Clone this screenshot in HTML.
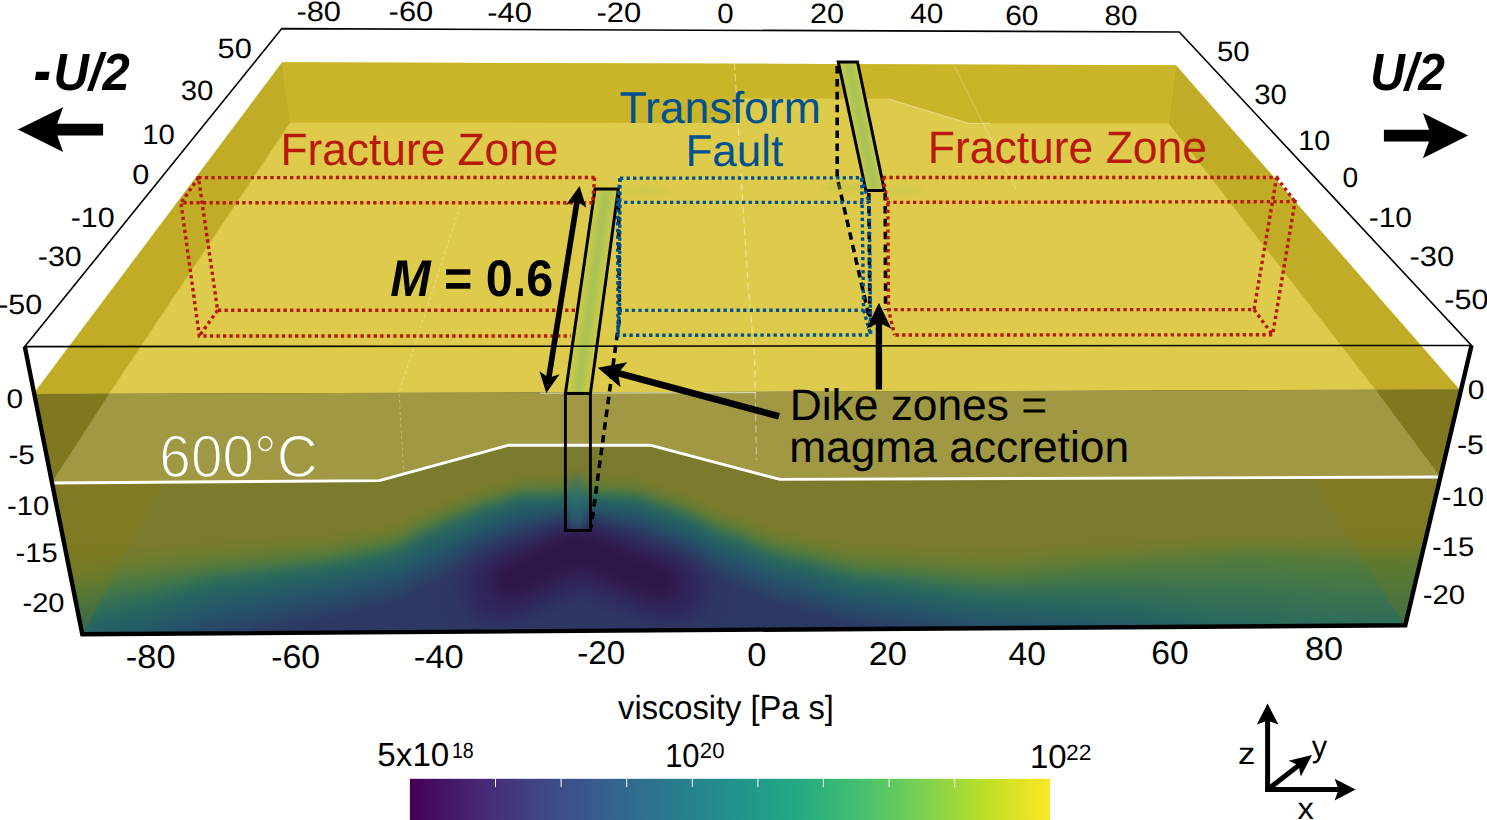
<!DOCTYPE html>
<html lang="en"><head><meta charset="utf-8"><title>Transform fault model</title>
<style>
html,body{margin:0;padding:0;background:#fff;}
body{width:1487px;height:820px;overflow:hidden;}
svg{display:block;text-rendering:geometricPrecision;font-family:"Liberation Sans",Arial,Helvetica,sans-serif;}
</style></head><body>
<svg width="1487" height="820" viewBox="0 0 1487 820">
<defs>
<filter id="bl5" filterUnits="userSpaceOnUse" x="-80" y="360" width="1660" height="360"><feGaussianBlur color-interpolation-filters="sRGB" stdDeviation="5"/></filter>
<filter id="bl12" filterUnits="userSpaceOnUse" x="-80" y="360" width="1660" height="360"><feGaussianBlur color-interpolation-filters="sRGB" stdDeviation="11"/></filter>
<filter id="bl9" filterUnits="userSpaceOnUse" x="-80" y="360" width="1660" height="360"><feGaussianBlur color-interpolation-filters="sRGB" stdDeviation="8"/></filter>
<filter id="bl3" filterUnits="userSpaceOnUse" x="0" y="0" width="1487" height="820"><feGaussianBlur color-interpolation-filters="sRGB" stdDeviation="3"/></filter>
<filter id="bl2" filterUnits="userSpaceOnUse" x="0" y="0" width="1487" height="820"><feGaussianBlur color-interpolation-filters="sRGB" stdDeviation="1.6"/></filter>
<clipPath id="cFront"><polygon points="33.4,394 1459.5,389.5 1405.3,625.3 82.3,634.3"/></clipPath>
<linearGradient id="vir" x1="0" x2="1" y1="0" y2="0">
<stop offset="0" stop-color="#440154"/>
<stop offset="0.1" stop-color="#482475"/>
<stop offset="0.2" stop-color="#414487"/>
<stop offset="0.3" stop-color="#355f8d"/>
<stop offset="0.4" stop-color="#2a788e"/>
<stop offset="0.5" stop-color="#21918c"/>
<stop offset="0.6" stop-color="#22a884"/>
<stop offset="0.7" stop-color="#44bf70"/>
<stop offset="0.8" stop-color="#7ad151"/>
<stop offset="0.9" stop-color="#bddf26"/>
<stop offset="1" stop-color="#fde725"/>
</linearGradient>
</defs>
<rect width="1487" height="820" fill="#fff"/>
<polygon points="282.2,62.2 1176,65.2 1459.5,389.5 33.4,394" fill="#dfcb4b"/>
<polygon points="282.2,62.2 1176,65.2 1168.6,123.3 969,123.4 888,98.8 734.5,98.5 734.5,122.9 290,122.7" fill="#cab528"/>
<polygon points="282.2,62.2 290,122.7 109,394 33.4,394" fill="#c1ac27"/>
<polygon points="1176,65.2 1168.6,123.3 1375.9,390.3 1459.5,389.5" fill="#c1ac27"/>
<g clip-path="url(#cFront)">
<rect x="-80" y="360" width="1660" height="360" fill="#7b7b2d"/>
<g filter="url(#bl5)">
<rect x="-80" y="360" width="1660" height="360" fill="#7b7b2d"/>
<polygon points="-60,560 -40,559.52 -20,558.81 0,558 20,557.19 40,556.48 60,556 80,553.78 100,550.67 120,548.22 140,547.09 160,545.51 180,543.67 200,541.89 220,540.47 240,539.7 260,538.76 280,537.63 300,536.59 320,535.78 340,533.34 360,530.09 380,527.14 400,523 420,511.22 440,503.69 460,496.42 480,488.87 500,483.89 520,478 540,477.54 560,477.04 580,477 600,477.15 620,478.2 640,479.39 660,486.78 680,492.99 700,501.48 720,510.97 740,516.74 760,525.23 780,532 800,534.56 820,538.3 840,542.1 860,544.83 880,545.27 900,545.71 920,546.24 940,546.79 960,547.31 980,547.75 1000,547.91 1020,546.95 1040,545.62 1060,544.17 1080,542.88 1100,542 1120,541.45 1140,540.67 1160,539.74 1180,538.75 1200,537.78 1220,536.91 1240,536.24 1260,536.13 1280,536.52 1300,537 1320,537.48 1340,537.87 1360,538.05 1380,538.2 1400,538.38 1420,538.59 1440,538.82 1460,539.06 1480,539.29 1500,539.52 1520,539.71 1540,539.88 1560,540 1560,730 -60,730" fill="#767b2e"/>
<polygon points="-60,567.2 -40,566.67 -20,565.9 0,565 20,564.1 40,563.33 60,562.8 80,560.35 100,556.94 120,554.24 140,552.98 160,551.2 180,549.13 200,547.12 220,545.53 240,544.62 260,543.45 280,542.04 300,540.74 320,539.76 340,537.19 360,533.73 380,530.61 400,526.37 420,514.48 440,506.85 460,499.33 480,491.53 500,486.42 520,480.4 540,479.94 560,479.44 580,479.4 600,479.56 620,480.66 640,481.9 660,489.34 680,495.6 700,504.16 720,513.74 740,519.6 760,528.28 780,535.2 800,537.95 820,541.99 840,546.08 860,549.02 880,549.6 900,550.24 920,551.01 940,551.83 960,552.59 980,553.23 1000,553.49 1020,552.41 1040,550.9 1060,549.26 1080,547.79 1100,546.8 1120,546.18 1140,545.3 1160,544.24 1180,543.12 1200,542.01 1220,541.03 1240,540.27 1260,540.15 1280,540.62 1300,541.2 1320,541.78 1340,542.25 1360,542.45 1380,542.6 1400,542.78 1420,542.99 1440,543.22 1460,543.46 1480,543.69 1500,543.92 1520,544.11 1540,544.28 1560,544.4 1560,730 -60,730" fill="#727c2f"/>
<polygon points="-60,574.4 -40,573.82 -20,572.98 0,572 20,571.02 40,570.18 60,569.6 80,566.93 100,563.2 120,560.26 140,558.87 160,556.89 180,554.59 200,552.36 220,550.59 240,549.55 260,548.14 280,546.44 300,544.89 320,543.75 340,541.03 360,537.38 380,534.08 400,529.75 420,517.74 440,510 460,502.24 480,494.19 500,488.95 520,482.8 540,482.34 560,481.84 580,481.8 600,481.97 620,483.12 640,484.4 660,491.9 680,498.2 700,506.85 720,516.52 740,522.46 760,531.33 780,538.4 800,541.35 820,545.67 840,550.06 860,553.2 880,553.93 900,554.78 920,555.79 940,556.86 960,557.87 980,558.71 1000,559.08 1020,557.87 1040,556.18 1060,554.35 1080,552.71 1100,551.6 1120,550.91 1140,549.92 1160,548.74 1180,547.48 1200,546.25 1220,545.16 1240,544.3 1260,544.18 1280,544.72 1300,545.4 1320,546.08 1340,546.62 1360,546.85 1380,547 1400,547.18 1420,547.39 1440,547.62 1460,547.86 1480,548.09 1500,548.32 1520,548.51 1540,548.68 1560,548.8 1560,730 -60,730" fill="#6e7c30"/>
<polygon points="-60,581.6 -40,580.97 -20,580.06 0,579 20,577.94 40,577.03 60,576.4 80,573.51 100,569.47 120,566.28 140,564.75 160,562.58 180,560.05 200,557.6 220,555.65 240,554.47 260,552.83 280,550.85 300,549.03 320,547.74 340,544.87 360,541.02 380,537.55 400,533.12 420,521 440,513.16 460,505.16 480,496.85 500,491.48 520,485.2 540,484.74 560,484.24 580,484.2 600,484.38 620,485.58 640,486.9 660,494.46 680,500.81 700,509.53 720,519.29 740,525.32 760,534.38 780,541.6 800,544.75 820,549.36 840,554.04 860,557.39 880,558.25 900,559.31 920,560.57 940,561.9 960,563.15 980,564.19 1000,564.67 1020,563.33 1040,561.46 1060,559.44 1080,557.63 1100,556.4 1120,555.64 1140,554.54 1160,553.24 1180,551.85 1200,550.49 1220,549.28 1240,548.33 1260,548.2 1280,548.83 1300,549.6 1320,550.37 1340,551 1360,551.25 1380,551.4 1400,551.58 1420,551.79 1440,552.02 1460,552.26 1480,552.49 1500,552.72 1520,552.91 1540,553.08 1560,553.2 1560,730 -60,730" fill="#657c34"/>
<polygon points="-60,588.8 -40,588.13 -20,587.14 0,586 20,584.86 40,583.87 60,583.2 80,580.09 100,575.74 120,572.3 140,570.64 160,568.27 180,565.51 200,562.83 220,560.71 240,559.39 260,557.52 280,555.26 300,553.18 320,551.72 340,548.71 360,544.67 380,541.02 400,536.49 420,524.26 440,516.32 460,508.07 480,499.52 500,494.01 520,487.6 540,487.14 560,486.64 580,486.6 600,486.78 620,488.04 640,489.41 660,497.02 680,503.42 700,512.22 720,522.06 740,528.18 760,537.43 780,544.8 800,548.14 820,553.04 840,558.01 860,561.58 880,562.58 900,563.84 920,565.35 940,566.93 960,568.43 980,569.67 1000,570.25 1020,568.79 1040,566.74 1060,564.53 1080,562.55 1100,561.2 1120,560.36 1140,559.17 1160,557.74 1180,556.22 1200,554.73 1220,553.4 1240,552.37 1260,552.23 1280,552.93 1300,553.8 1320,554.67 1340,555.37 1360,555.65 1380,555.8 1400,555.98 1420,556.19 1440,556.42 1460,556.66 1480,556.89 1500,557.12 1520,557.31 1540,557.48 1560,557.6 1560,730 -60,730" fill="#5a7b39"/>
<polygon points="-60,596 -40,595.28 -20,594.22 0,593 20,591.78 40,590.72 60,590 80,586.67 100,582.01 120,578.33 140,576.53 160,573.96 180,570.97 200,568.07 220,565.77 240,564.32 260,562.21 280,559.66 300,557.33 320,555.71 340,552.55 360,548.31 380,544.49 400,539.86 420,527.52 440,519.47 460,510.99 480,502.18 500,496.54 520,490 540,489.54 560,489.04 580,489 600,489.19 620,490.5 640,491.91 660,499.58 680,506.03 700,514.91 720,524.83 740,531.04 760,540.48 780,548 800,551.54 820,556.73 840,561.99 860,565.76 880,566.91 900,568.37 920,570.12 940,571.97 960,573.71 980,575.15 1000,575.84 1020,574.25 1040,572.03 1060,569.62 1080,567.46 1100,566 1120,565.09 1140,563.79 1160,562.24 1180,560.58 1200,558.96 1220,557.52 1240,556.4 1260,556.26 1280,557.03 1300,558 1320,558.97 1340,559.74 1360,560.05 1380,560.2 1400,560.38 1420,560.59 1440,560.82 1460,561.06 1480,561.29 1500,561.52 1520,561.71 1540,561.88 1560,562 1560,730 -60,730" fill="#507a3e"/>
<polygon points="-60,604.8 -40,603.98 -20,602.79 0,601.4 20,600.01 40,598.82 60,598 80,594.22 100,588.94 120,584.77 140,582.59 160,579.43 180,575.75 200,572.18 220,569.34 240,567.69 260,565.49 280,562.83 300,560.39 320,558.7 340,555.44 360,551.08 380,547.13 400,542.43 420,529.98 440,521.84 460,513.2 480,504.22 500,498.47 520,491.8 540,491.34 560,490.84 580,490.8 600,491 620,492.36 640,493.81 660,501.54 680,508.05 700,517.08 720,527.18 740,533.47 760,543 780,550.6 800,554.26 820,559.62 840,565.06 860,568.96 880,570.26 900,571.95 920,573.98 940,576.12 960,578.14 980,579.82 1000,580.69 1020,579.54 1040,577.94 1060,576.21 1080,574.65 1100,573.6 1120,573.25 1140,572.76 1160,572.17 1180,571.54 1200,570.93 1220,570.38 1240,569.95 1260,570.2 1280,571.4 1300,572.9 1320,574.4 1340,575.6 1360,576.07 1380,576.26 1400,576.5 1420,576.77 1440,577.07 1460,577.38 1480,577.68 1500,577.97 1520,578.23 1540,578.44 1560,578.6 1560,730 -60,730" fill="#457747"/>
<polygon points="-60,613.6 -40,612.69 -20,611.35 0,609.8 20,608.25 40,606.91 60,606 80,601.78 100,595.87 120,591.21 140,588.65 160,584.89 180,580.52 200,576.29 220,572.92 240,571.06 260,568.76 280,565.99 300,563.45 320,561.69 340,558.34 360,553.84 380,549.78 400,545 420,532.44 440,524.22 460,515.4 480,506.26 500,500.4 520,493.6 540,493.14 560,492.64 580,492.6 600,492.81 620,494.22 640,495.72 660,503.5 680,510.07 700,519.25 720,529.52 740,535.9 760,545.53 780,553.2 800,556.98 820,562.51 840,568.12 860,572.15 880,573.6 900,575.53 920,577.84 940,580.28 960,582.58 980,584.48 1000,585.53 1020,584.83 1040,583.85 1060,582.79 1080,581.84 1100,581.2 1120,581.42 1140,581.73 1160,582.1 1180,582.5 1200,582.89 1220,583.24 1240,583.5 1260,584.14 1280,585.77 1300,587.8 1320,589.83 1340,591.46 1360,592.09 1380,592.32 1400,592.61 1420,592.95 1440,593.32 1460,593.7 1480,594.07 1500,594.43 1520,594.74 1540,595.01 1560,595.2 1560,730 -60,730" fill="#3b734f"/>
<polygon points="-60,622.4 -40,621.39 -20,619.91 0,618.2 20,616.49 40,615.01 60,614 80,609.33 100,602.81 120,597.66 140,594.71 160,590.36 180,585.3 200,580.39 220,576.5 240,574.43 260,572.04 280,569.15 300,566.5 320,564.68 340,561.23 360,556.6 380,552.42 400,547.57 420,534.9 440,526.59 460,517.61 480,508.3 500,502.34 520,495.4 540,494.94 560,494.44 580,494.4 600,494.62 620,496.08 640,497.62 660,505.46 680,512.09 700,521.42 720,531.87 740,538.33 760,548.05 780,555.8 800,559.69 820,565.4 840,571.19 860,575.34 880,576.95 900,579.11 920,581.7 940,584.43 960,587.01 980,589.15 1000,590.37 1020,590.12 1040,589.76 1060,589.38 1080,589.03 1100,588.8 1120,589.58 1140,590.7 1160,592.03 1180,593.46 1200,594.85 1220,596.09 1240,597.06 1260,598.08 1280,600.13 1300,602.7 1320,605.27 1340,607.32 1360,608.1 1380,608.38 1400,608.72 1420,609.13 1440,609.56 1460,610.01 1480,610.46 1500,610.88 1520,611.26 1540,611.57 1560,611.8 1560,730 -60,730" fill="#336f56"/>
<polygon points="-60,631.2 -40,630.09 -20,628.47 0,626.6 20,624.73 40,623.11 60,622 80,616.89 100,609.74 120,604.1 140,600.77 160,595.83 180,590.08 200,584.5 220,580.08 240,577.8 260,575.32 280,572.31 300,569.56 320,567.67 340,564.12 360,559.37 380,555.07 400,550.15 420,537.36 440,528.96 460,519.82 480,510.34 500,504.27 520,497.2 540,496.74 560,496.24 580,496.2 600,496.42 620,497.94 640,499.52 660,507.41 680,514.1 700,523.6 720,534.21 740,540.76 760,550.58 780,558.4 800,562.41 820,568.29 840,574.25 860,578.53 880,580.29 900,582.69 920,585.56 940,588.59 960,591.44 980,593.81 1000,595.22 1020,595.41 1040,595.68 1060,595.97 1080,596.22 1100,596.4 1120,597.75 1140,599.67 1160,601.96 1180,604.42 1200,606.81 1220,608.95 1240,610.61 1260,612.02 1280,614.5 1300,617.6 1320,620.7 1340,623.18 1360,624.12 1380,624.44 1400,624.84 1420,625.3 1440,625.81 1460,626.33 1480,626.85 1500,627.34 1520,627.77 1540,628.13 1560,628.4 1560,730 -60,730" fill="#2c6a5b"/>
<polygon points="-60,640 -40,638.8 -20,637.04 0,635 20,632.96 40,631.2 60,630 80,624.44 100,616.68 120,610.54 140,606.83 160,601.29 180,594.86 200,588.61 220,583.65 240,581.17 260,578.59 280,575.48 300,572.62 320,570.66 340,567.02 360,562.13 380,557.71 400,552.72 420,539.81 440,531.33 460,522.03 480,512.39 500,506.2 520,499 540,498.54 560,498.04 580,498 600,498.23 620,499.8 640,501.42 660,509.37 680,516.12 700,525.77 720,536.56 740,543.19 760,553.1 780,561 800,565.13 820,571.18 840,577.32 860,581.73 880,583.64 900,586.27 920,589.42 940,592.74 960,595.88 980,598.47 1000,600.06 1020,600.7 1040,601.59 1060,602.55 1080,603.41 1100,604 1120,605.91 1140,608.64 1160,611.9 1180,615.37 1200,618.78 1220,621.81 1240,624.17 1260,625.96 1280,628.87 1300,632.5 1320,636.13 1340,639.04 1360,640.14 1380,640.5 1400,640.95 1420,641.48 1440,642.06 1460,642.65 1480,643.24 1500,643.79 1520,644.29 1540,644.7 1560,645 1560,730 -60,730" fill="#266660"/>
<polygon points="-60,647.2 -40,646 -20,644.24 0,642.2 20,640.16 40,638.4 60,637.2 80,631.48 100,623.48 120,617.16 140,613.31 160,607.56 180,600.87 200,594.38 220,589.24 240,586.6 260,583.78 280,580.36 300,577.22 320,575.1 340,571.42 360,566.5 380,562.05 400,557.05 420,544.22 440,535.72 460,526.19 480,516.29 500,509.91 520,502.48 540,501.69 560,500.83 580,500.76 600,501.02 620,502.78 640,504.56 660,512.78 680,519.73 700,529.47 720,540.36 740,547.05 760,557.02 780,564.96 800,569.11 820,575.2 840,581.37 860,585.8 880,587.78 900,590.52 920,593.8 940,597.25 960,600.51 980,603.21 1000,604.88 1020,605.73 1040,606.91 1060,608.2 1080,609.34 1100,610.12 1120,612.18 1140,615.13 1160,618.65 1180,622.4 1200,626.08 1220,629.35 1240,631.9 1260,633.72 1280,636.52 1300,640 1320,643.48 1340,646.28 1360,647.35 1380,647.76 1400,648.27 1420,648.86 1440,649.5 1460,650.17 1480,650.82 1500,651.44 1520,652 1540,652.46 1560,652.8 1560,730 -60,730" fill="#266262"/>
<polygon points="-60,654.4 -40,653.2 -20,651.44 0,649.4 20,647.36 40,645.6 60,644.4 80,638.51 100,630.28 120,623.77 140,619.78 160,613.82 180,606.89 200,600.16 220,594.82 240,592.04 260,588.96 280,585.24 300,581.82 320,579.54 340,575.83 360,570.87 380,566.38 400,561.39 420,548.62 440,540.12 460,530.34 480,520.19 500,513.63 520,505.96 540,504.85 560,503.62 580,503.52 600,503.81 620,505.76 640,507.69 660,516.19 680,523.34 700,533.17 720,544.17 740,550.91 760,560.93 780,568.92 800,573.1 820,579.22 840,585.43 860,589.88 880,591.93 900,594.77 920,598.18 940,601.76 960,605.15 980,607.95 1000,609.7 1020,610.76 1040,612.24 1060,613.84 1080,615.27 1100,616.24 1120,618.46 1140,621.62 1160,625.4 1180,629.43 1200,633.38 1220,636.9 1240,639.63 1260,641.48 1280,644.16 1300,647.5 1320,650.84 1340,653.52 1360,654.57 1380,655.01 1400,655.58 1420,656.24 1440,656.95 1460,657.68 1480,658.41 1500,659.1 1520,659.71 1540,660.23 1560,660.6 1560,730 -60,730" fill="#255e64"/>
<polygon points="-60,661.6 -40,660.4 -20,658.64 0,656.6 20,654.56 40,652.8 60,651.6 80,645.54 100,637.08 120,630.39 140,626.26 160,620.09 180,612.9 200,605.93 220,600.4 240,597.48 260,594.15 280,590.12 300,586.42 320,583.98 340,580.24 360,575.24 380,570.72 400,565.73 420,553.03 440,544.52 460,534.49 480,524.09 500,517.34 520,509.44 540,508 560,506.41 580,506.28 600,506.59 620,508.73 640,510.83 660,519.6 680,526.95 700,536.88 720,547.98 740,554.77 760,564.85 780,572.88 800,577.08 820,583.23 840,589.48 860,593.96 880,596.07 900,599.02 920,602.55 940,606.27 960,609.78 980,612.69 1000,614.53 1020,615.8 1040,617.56 1060,619.48 1080,621.2 1100,622.36 1120,624.73 1140,628.12 1160,632.15 1180,636.46 1200,640.68 1220,644.44 1240,647.37 1260,649.24 1280,651.81 1300,655 1320,658.19 1340,660.76 1360,661.78 1380,662.27 1400,662.9 1420,663.61 1440,664.4 1460,665.2 1480,666 1500,666.75 1520,667.43 1540,667.99 1560,668.4 1560,730 -60,730" fill="#245a66"/>
<polygon points="-60,668.8 -40,667.6 -20,665.84 0,663.8 20,661.76 40,660 60,658.8 80,652.57 100,643.88 120,637.01 140,632.74 160,626.35 180,618.92 200,611.71 220,605.99 240,602.92 260,599.33 280,595 300,591.02 320,588.41 340,584.65 360,579.61 380,575.05 400,570.07 420,557.43 440,548.91 460,538.65 480,528 500,521.06 520,512.92 540,511.15 560,509.2 580,509.04 600,509.38 620,511.71 640,513.96 660,523 680,530.56 700,540.58 720,551.79 740,558.62 760,568.76 780,576.84 800,581.06 820,587.25 840,593.53 860,598.04 880,600.22 900,603.27 920,606.93 940,610.78 960,614.42 980,617.43 1000,619.35 1020,620.83 1040,622.89 1060,625.12 1080,627.12 1100,628.48 1120,631 1140,634.61 1160,638.9 1180,643.49 1200,647.99 1220,651.99 1240,655.1 1260,657.01 1280,659.45 1300,662.5 1320,665.55 1340,667.99 1360,669 1380,669.53 1400,670.21 1420,670.99 1440,671.84 1460,672.72 1480,673.59 1500,674.41 1520,675.14 1540,675.75 1560,676.2 1560,730 -60,730" fill="#245668"/>
<polygon points="-60,676 -40,674.8 -20,673.04 0,671 20,668.96 40,667.2 60,666 80,659.61 100,650.68 120,643.62 140,639.22 160,632.62 180,624.94 200,617.48 220,611.57 240,608.36 260,604.52 280,599.88 300,595.62 320,592.85 340,589.06 360,583.98 380,579.38 400,574.4 420,561.84 440,553.31 460,542.8 480,531.9 500,524.77 520,516.4 540,514.3 560,511.99 580,511.8 600,512.17 620,514.69 640,517.1 660,526.41 680,534.18 700,544.29 720,555.59 740,562.48 760,572.68 780,580.8 800,585.05 820,591.27 840,597.59 860,602.12 880,604.36 900,607.53 920,611.31 940,615.29 960,619.05 980,622.17 1000,624.17 1020,625.86 1040,628.21 1060,630.76 1080,633.05 1100,634.6 1120,637.27 1140,641.1 1160,645.65 1180,650.52 1200,655.29 1220,659.53 1240,662.83 1260,664.77 1280,667.1 1300,670 1320,672.9 1340,675.23 1360,676.22 1380,676.79 1400,677.52 1420,678.37 1440,679.29 1460,680.24 1480,681.18 1500,682.06 1520,682.86 1540,683.52 1560,684 1560,730 -60,730" fill="#255268"/>
<polygon points="-60,683.2 -40,682 -20,680.24 0,678.2 20,676.16 40,674.4 60,673.2 80,666.64 100,657.48 120,650.24 140,645.69 160,638.88 180,630.95 200,623.26 220,617.15 240,613.8 260,609.71 280,604.75 300,600.22 320,597.29 340,593.47 360,588.35 380,583.72 400,578.74 420,566.24 440,557.71 460,546.96 480,535.8 500,528.49 520,519.88 540,517.45 560,514.78 580,514.56 600,514.96 620,517.66 640,520.23 660,529.82 680,537.79 700,547.99 720,559.4 740,566.34 760,576.59 780,584.76 800,589.03 820,595.29 840,601.64 860,606.2 880,608.51 900,611.78 920,615.68 940,619.8 960,623.69 980,626.91 1000,628.99 1020,630.89 1040,633.54 1060,636.41 1080,638.98 1100,640.72 1120,643.55 1140,647.59 1160,652.41 1180,657.55 1200,662.59 1220,667.08 1240,670.57 1260,672.53 1280,674.74 1300,677.5 1320,680.26 1340,682.47 1360,683.43 1380,684.05 1400,684.84 1420,685.75 1440,686.74 1460,687.76 1480,688.77 1500,689.72 1520,690.57 1540,691.28 1560,691.8 1560,730 -60,730" fill="#274e68"/>
<polygon points="-60,690.4 -40,689.2 -20,687.44 0,685.4 20,683.36 40,681.6 60,680.4 80,673.67 100,664.28 120,656.86 140,652.17 160,645.14 180,636.97 200,629.03 220,622.74 240,619.23 260,614.89 280,609.63 300,604.82 320,601.73 340,597.87 360,592.71 380,588.05 400,583.08 420,570.65 440,562.1 460,551.11 480,539.7 500,532.21 520,523.36 540,520.6 560,517.57 580,517.32 600,517.74 620,520.64 640,523.37 660,533.22 680,541.4 700,551.69 720,563.21 740,570.2 760,580.51 780,588.72 800,593.02 820,599.31 840,605.69 860,610.27 880,612.66 900,616.03 920,620.06 940,624.31 960,628.32 980,631.65 1000,633.81 1020,635.92 1040,638.86 1060,642.05 1080,644.9 1100,646.84 1120,649.82 1140,654.08 1160,659.16 1180,664.58 1200,669.89 1220,674.62 1240,678.3 1260,680.29 1280,682.39 1300,685 1320,687.61 1340,689.71 1360,690.65 1380,691.31 1400,692.15 1420,693.13 1440,694.18 1460,695.27 1480,696.35 1500,697.37 1520,698.29 1540,699.04 1560,699.6 1560,730 -60,730" fill="#284a68"/>
<polygon points="-60,697.6 -40,696.4 -20,694.64 0,692.6 20,690.56 40,688.8 60,687.6 80,680.71 100,671.08 120,663.47 140,658.65 160,651.41 180,642.98 200,634.81 220,628.32 240,624.67 260,620.08 280,614.51 300,609.42 320,606.16 340,602.28 360,597.08 380,592.38 400,587.41 420,575.05 440,566.5 460,555.26 480,543.6 500,535.92 520,526.84 540,523.75 560,520.36 580,520.08 600,520.53 620,523.62 640,526.5 660,536.63 680,545.01 700,555.4 720,567.01 740,574.06 760,584.42 780,592.68 800,597 820,603.33 840,609.75 860,614.35 880,616.8 900,620.28 920,624.44 940,628.82 960,632.96 980,636.39 1000,638.63 1020,640.95 1040,644.19 1060,647.69 1080,650.83 1100,652.96 1120,656.09 1140,660.57 1160,665.91 1180,671.61 1200,677.2 1220,682.17 1240,686.03 1260,688.05 1280,690.03 1300,692.5 1320,694.97 1340,696.95 1360,697.87 1380,698.57 1400,699.47 1420,700.5 1440,701.63 1460,702.79 1480,703.94 1500,705.03 1520,706 1540,706.81 1560,707.4 1560,730 -60,730" fill="#2a4568"/>
<polygon points="-60,704.8 -40,703.6 -20,701.84 0,699.8 20,697.76 40,696 60,694.8 80,687.74 100,677.88 120,670.09 140,665.13 160,657.67 180,649 200,640.58 220,633.91 240,630.11 260,625.26 280,619.39 300,614.02 320,610.6 340,606.69 360,601.45 380,596.72 400,591.75 420,579.45 440,570.9 460,559.42 480,547.51 500,539.64 520,530.32 540,526.91 560,523.15 580,522.84 600,523.32 620,526.59 640,529.64 660,540.04 680,548.62 700,559.1 720,570.82 740,577.92 760,588.34 780,596.64 800,600.98 820,607.34 840,613.8 860,618.43 880,620.95 900,624.53 920,628.82 940,633.33 960,637.59 980,641.13 1000,643.45 1020,645.98 1040,649.51 1060,653.33 1080,656.76 1100,659.08 1120,662.37 1140,667.06 1160,672.66 1180,678.64 1200,684.5 1220,689.71 1240,693.77 1260,695.81 1280,697.68 1300,700 1320,702.32 1340,704.19 1360,705.08 1380,705.83 1400,706.78 1420,707.88 1440,709.08 1460,710.31 1480,711.53 1500,712.68 1520,713.72 1540,714.57 1560,715.2 1560,730 -60,730" fill="#2b4167"/>
<polygon points="-60,712 -40,710.8 -20,709.04 0,707 20,704.96 40,703.2 60,702 80,694.77 100,684.68 120,676.7 140,671.6 160,663.94 180,655.01 200,646.36 220,639.49 240,635.55 260,630.45 280,624.27 300,618.62 320,615.04 340,611.1 360,605.82 380,601.05 400,596.09 420,583.86 440,575.29 460,563.57 480,551.41 500,543.35 520,533.8 540,530.06 560,525.94 580,525.6 600,526.11 620,529.57 640,532.77 660,543.45 680,552.23 700,562.8 720,574.63 740,581.77 760,592.25 780,600.6 800,604.97 820,611.36 840,617.85 860,622.51 880,625.09 900,628.78 920,633.19 940,637.84 960,642.23 980,645.86 1000,648.27 1020,651.02 1040,654.84 1060,658.98 1080,662.68 1100,665.2 1120,668.64 1140,673.56 1160,679.41 1180,685.67 1200,691.8 1220,697.25 1240,701.5 1260,703.58 1280,705.32 1300,707.5 1320,709.68 1340,711.42 1360,712.3 1380,713.09 1400,714.1 1420,715.26 1440,716.52 1460,717.83 1480,719.12 1500,720.34 1520,721.43 1540,722.34 1560,723 1560,730 -60,730" fill="#2d3c65"/>
<polygon points="-60,719.2 -40,718 -20,716.24 0,714.2 20,712.16 40,710.4 60,709.2 80,701.81 100,691.48 120,683.32 140,678.08 160,670.2 180,661.03 200,652.13 220,645.07 240,640.99 260,635.63 280,629.15 300,623.22 320,619.48 340,615.51 360,610.19 380,605.39 400,600.43 420,588.26 440,579.69 460,567.72 480,555.31 500,547.07 520,537.28 540,533.21 560,528.73 580,528.36 600,528.89 620,532.54 640,535.9 660,546.85 680,555.84 700,566.51 720,578.43 740,585.63 760,596.17 780,604.56 800,608.95 820,615.38 840,621.91 860,626.59 880,629.24 900,633.03 920,637.57 940,642.35 960,646.86 980,650.6 1000,653.09 1020,656.05 1040,660.16 1060,664.62 1080,668.61 1100,671.32 1120,674.91 1140,680.05 1160,686.16 1180,692.7 1200,699.1 1220,704.8 1240,709.23 1260,711.34 1280,712.97 1300,715 1320,717.03 1340,718.66 1360,719.51 1380,720.35 1400,721.41 1420,722.64 1440,723.97 1460,725.35 1480,726.71 1500,727.99 1520,729.14 1540,730.1 1560,730.8 1560,730 -60,730" fill="#2e3864"/>
</g>
<g filter="url(#bl12)" fill="none" stroke-linecap="round" stroke-linejoin="round">
<polyline points="498,588 579,554 672,588" stroke="#32245a" stroke-width="66"/>
</g>
<g filter="url(#bl9)" fill="none" stroke-linecap="round" stroke-linejoin="round">
<polyline points="512,580 579,548 660,582" stroke="#301648" stroke-width="36"/>
</g>
<polygon points="40,483 164,483 82,636 40,636" fill="#8c7800" opacity="0.22"/>
<polygon points="1311,478 1460,478 1460,630 1405,626" fill="#8c7800" opacity="0.22"/>
<polygon points="33.4,394 1459.5,389.5 1460,477 1440.3,477 780,479.4 650,445.2 508.9,445.2 379.4,480.6 50.5,483 30,483" fill="#a09843"/>
<polygon points="33.4,394 109,394 52,482 30,483" fill="#80781f"/>
<polygon points="1459.5,389.5 1375.9,390.3 1440.5,477 1465,477" fill="#80781f"/>
</g>
<polyline points="50.5,483 379.4,480.6 508.9,445.2 650,445.2 780,479.4 1440.3,477" fill="none" stroke="#fff" stroke-width="2.9" stroke-linejoin="round"/>
<polyline points="462,200 423,320 399,393 404,478" fill="none" stroke="#fff" stroke-width="0.7" stroke-dasharray="3 3" opacity="0.45"/>
<polyline points="734.5,63 742,190 748,285 754.6,355 756.5,460" fill="none" stroke="#fff" stroke-width="0.9" stroke-dasharray="7 4" opacity="0.55"/>
<polyline points="954,65 1016.5,190" fill="none" stroke="#fff" stroke-width="0.6" opacity="0.4"/>
<polyline points="888,98.8 969,123.4 990,123.4" fill="none" stroke="#fff" stroke-width="0.8" opacity="0.55"/>
<line x1="540" y1="393.2" x2="756" y2="392.6" stroke="#fff" stroke-width="0.8" opacity="0.85"/>
<polyline points="837.2,66 837.2,177.6 870,321" fill="none" stroke="#000" stroke-width="3.6" stroke-dasharray="7.6 5.3"/>
<polyline points="868.8,193 870,318" fill="none" stroke="#000" stroke-width="3.6" stroke-dasharray="7.6 5.3"/>
<polyline points="885.2,193 885.6,310" fill="none" stroke="#000" stroke-width="3.6" stroke-dasharray="7.6 5.3"/>
<polyline points="618.5,191 619.5,318 591,528" fill="none" stroke="#000" stroke-width="3.6" stroke-dasharray="7.6 5.3"/>
<g filter="url(#bl3)" opacity="0.5">
<ellipse cx="644" cy="190.5" rx="26" ry="3.6" fill="#b4c44a"/>
<ellipse cx="846" cy="188" rx="24" ry="3.6" fill="#b4c44a"/>
<ellipse cx="905" cy="190" rx="20" ry="3.2" fill="#b4c44a"/>
</g>
<clipPath id="cld"><polygon points="595,189 618.3,189 590.4,393.6 565.4,393.6"/></clipPath>
<polygon points="595,189 618.3,189 590.4,393.6 565.4,393.6" fill="#cbcb47"/>
<g clip-path="url(#cld)"><polyline points="606.65,189 577.9,393.6" fill="none" stroke="#a3c158" stroke-width="9.5" filter="url(#bl3)"/></g>
<polygon points="595,189 618.3,189 590.4,393.6 565.4,393.6" fill="none" stroke="#000" stroke-width="3" stroke-linejoin="miter"/>
<clipPath id="crd"><polygon points="838.3,61.9 857.5,61.9 884.4,190.5 865.9,190.5"/></clipPath>
<polygon points="838.3,61.9 857.5,61.9 884.4,190.5 865.9,190.5" fill="#cbcb47"/>
<g clip-path="url(#crd)"><polyline points="847.9,61.9 875.15,190.5" fill="none" stroke="#a3c158" stroke-width="9.5" filter="url(#bl3)"/></g>
<polygon points="838.3,61.9 857.5,61.9 884.4,190.5 865.9,190.5" fill="none" stroke="#000" stroke-width="3" stroke-linejoin="miter"/>
<clipPath id="cfr"><rect x="565.4" y="393.4" width="25" height="137"/></clipPath>
<g clip-path="url(#cfr)"><ellipse cx="577" cy="505" rx="9" ry="32" fill="#2f6f78" opacity="0.6" filter="url(#bl5)"/></g>
<rect x="565.4" y="393.4" width="25" height="137" fill="none" stroke="#000" stroke-width="2.9"/>
<polyline points="594.6,177.5 198.5,177.6 217.6,310.3 576.6,310.3" fill="none" stroke="#b9190a" stroke-width="3.4" stroke-dasharray="3.3 3.25"/>
<polyline points="592.7,202.8 181,202.8 199.3,336 571,336" fill="none" stroke="#b9190a" stroke-width="3.4" stroke-dasharray="3.3 3.25"/>
<polyline points="198.5,177.6 181,202.8" fill="none" stroke="#b9190a" stroke-width="3.4" stroke-dasharray="3.3 3.25"/>
<polyline points="217.6,310.3 199.3,336" fill="none" stroke="#b9190a" stroke-width="3.4" stroke-dasharray="3.3 3.25"/>
<polyline points="594.6,177.5 592.7,202.8" fill="none" stroke="#b9190a" stroke-width="3.4" stroke-dasharray="3.3 3.25"/>
<polyline points="882.9,177.5 1276.6,177.5 1254,309.6 888.5,309.6" fill="none" stroke="#b9190a" stroke-width="3.4" stroke-dasharray="3.3 3.25"/>
<polyline points="886.8,202.4 1295,201.6 1272.6,334.8 894.5,335" fill="none" stroke="#b9190a" stroke-width="3.4" stroke-dasharray="3.3 3.25"/>
<polyline points="1276.6,177.5 1295,201.6" fill="none" stroke="#b9190a" stroke-width="3.4" stroke-dasharray="3.3 3.25"/>
<polyline points="1254,309.6 1272.6,334.8" fill="none" stroke="#b9190a" stroke-width="3.4" stroke-dasharray="3.3 3.25"/>
<polyline points="882.9,177.5 887.8,203 888.5,309.6 894.5,335" fill="none" stroke="#b9190a" stroke-width="3.4" stroke-dasharray="3.3 3.25"/>
<polyline points="620,178.2 861.7,177.8 863.6,310.2 619.5,310.4 620,178.2" fill="none" stroke="#00518f" stroke-width="3.4" stroke-dasharray="3.3 3.25"/>
<polyline points="617.6,202.4 869.3,202.4 870.7,335 618,335.3 617.6,202.4" fill="none" stroke="#00518f" stroke-width="3.4" stroke-dasharray="3.3 3.25"/>
<polyline points="620,178.2 617.6,202.4" fill="none" stroke="#00518f" stroke-width="3.4" stroke-dasharray="3.3 3.25"/>
<polyline points="619.5,310.4 618,335.3" fill="none" stroke="#00518f" stroke-width="3.4" stroke-dasharray="3.3 3.25"/>
<polyline points="861.7,177.8 867.3,196.7 869.3,202.4" fill="none" stroke="#00518f" stroke-width="3.4" stroke-dasharray="3.3 3.25"/>
<polyline points="863.6,310.2 870.7,335" fill="none" stroke="#00518f" stroke-width="3.4" stroke-dasharray="3.3 3.25"/>
<polygon points="24.8,346.6 281.8,28.6 1179.3,32 1471.5,345.4" fill="none" stroke="#000" stroke-width="1.6" stroke-linejoin="miter"/>
<polyline points="24.8,346.6 82.3,634.3 1405.3,625.3 1471.5,345.4" fill="none" stroke="#000" stroke-width="4.4" stroke-linejoin="miter" stroke-linecap="butt"/>
<line x1="103.1" y1="129.6" x2="54.7" y2="129.6" stroke="#000" stroke-width="11.6"/>
<polygon points="17.9,129.6 63.1,107.2 55.2,129.6 63.1,152"/>
<line x1="1383.9" y1="135.6" x2="1431.7" y2="135.6" stroke="#000" stroke-width="11.6"/>
<polygon points="1468.1,135.6 1422.9,158.2 1431.2,135.6 1422.9,113"/>
<polygon points="546.3,393 539.48,371.14 548.75,377.7 559.62,374.37"/>
<line x1="548.68" y1="378.19" x2="577.12" y2="200.81" stroke="#000" stroke-width="5.6"/>
<polygon points="579.5,186 586.32,207.86 577.05,201.3 566.18,204.63"/>
<line x1="779" y1="416.2" x2="617.61" y2="373.09" stroke="#000" stroke-width="6.7"/>
<polygon points="597.8,367.8 627.24,362.21 618.09,373.22 620.53,387.33"/>
<line x1="878.9" y1="389.5" x2="878.9" y2="322.2" stroke="#000" stroke-width="6.4"/>
<polygon points="878.9,302.7 891.4,328.7 878.9,322.7 866.4,328.7"/>
<line x1="1267.6" y1="792" x2="1267.6" y2="720" stroke="#000" stroke-width="5"/>
<polygon points="1267.6,703.5 1278.4,724.5 1267.6,720.5 1256.8,724.5"/>
<line x1="1265.1" y1="789.6" x2="1339.1" y2="789.6" stroke="#000" stroke-width="5"/>
<polygon points="1355.6,789.6 1334.6,800.4 1338.6,789.6 1334.6,778.8"/>
<line x1="1267.6" y1="789.6" x2="1298.99" y2="765.14" stroke="#000" stroke-width="5"/>
<polygon points="1312,755 1300.79,776.41 1298.59,765.45 1288.5,760.64"/>
<rect x="409.9" y="778.8" width="640.1" height="42" fill="url(#vir)"/>
<rect x="495" y="778.8" width="1" height="8.2" fill="#fff"/>
<rect x="560.6" y="778.8" width="1" height="8.2" fill="#fff"/>
<rect x="626.2" y="778.8" width="1" height="8.2" fill="#fff"/>
<rect x="691.8" y="778.8" width="1" height="8.2" fill="#fff"/>
<rect x="757.4" y="778.8" width="1" height="8.2" fill="#fff"/>
<rect x="823" y="778.8" width="1" height="8.2" fill="#fff"/>
<rect x="888.6" y="778.8" width="1" height="8.2" fill="#fff"/>
<rect x="954.2" y="778.8" width="1" height="8.2" fill="#fff"/>
<text x="296.44" y="20.8" font-size="28" textLength="44.54" lengthAdjust="spacingAndGlyphs">-80</text>
<text x="388.64" y="20.8" font-size="28" textLength="44.54" lengthAdjust="spacingAndGlyphs">-60</text>
<text x="487.24" y="21.9" font-size="28" textLength="44.54" lengthAdjust="spacingAndGlyphs">-40</text>
<text x="596.44" y="21.9" font-size="28" textLength="44.64" lengthAdjust="spacingAndGlyphs">-20</text>
<text x="717.25" y="22.6" font-size="28" textLength="16.37" lengthAdjust="spacingAndGlyphs">0</text>
<text x="810.07" y="22.5" font-size="28" textLength="34" lengthAdjust="spacingAndGlyphs">20</text>
<text x="910.15" y="22.5" font-size="28" textLength="33.09" lengthAdjust="spacingAndGlyphs">40</text>
<text x="1005.21" y="24.5" font-size="28" textLength="33.24" lengthAdjust="spacingAndGlyphs">60</text>
<text x="1104.62" y="24.5" font-size="28" textLength="33.01" lengthAdjust="spacingAndGlyphs">80</text>
<text x="217.57" y="58.2" font-size="28" textLength="34.21" lengthAdjust="spacingAndGlyphs">50</text>
<text x="180.68" y="99.5" font-size="28" textLength="32.64" lengthAdjust="spacingAndGlyphs">30</text>
<text x="142.27" y="144.2" font-size="28" textLength="32.66" lengthAdjust="spacingAndGlyphs">10</text>
<text x="132.3" y="183.7" font-size="28" textLength="17.07" lengthAdjust="spacingAndGlyphs">0</text>
<text x="70.66" y="226.9" font-size="28" textLength="43.9" lengthAdjust="spacingAndGlyphs">-10</text>
<text x="37.87" y="266" font-size="28" textLength="43.79" lengthAdjust="spacingAndGlyphs">-30</text>
<text x="-1.84" y="313.6" font-size="28" textLength="44.01" lengthAdjust="spacingAndGlyphs">-50</text>
<text x="1216.92" y="61.1" font-size="28" textLength="32.7" lengthAdjust="spacingAndGlyphs">50</text>
<text x="1254.28" y="104.3" font-size="28" textLength="32.64" lengthAdjust="spacingAndGlyphs">30</text>
<text x="1298.22" y="150" font-size="28" textLength="31.88" lengthAdjust="spacingAndGlyphs">10</text>
<text x="1342.5" y="186.6" font-size="28" textLength="15.67" lengthAdjust="spacingAndGlyphs">0</text>
<text x="1368.68" y="226.9" font-size="28" textLength="43.37" lengthAdjust="spacingAndGlyphs">-10</text>
<text x="1409.54" y="266" font-size="28" textLength="44.64" lengthAdjust="spacingAndGlyphs">-30</text>
<text x="1444.35" y="309.2" font-size="28" textLength="44.32" lengthAdjust="spacingAndGlyphs">-50</text>
<text x="6.44" y="408" font-size="27" textLength="16.6" lengthAdjust="spacingAndGlyphs">0</text>
<text x="8.4" y="463.8" font-size="27" textLength="26.32" lengthAdjust="spacingAndGlyphs">-5</text>
<text x="6.91" y="514.6" font-size="27" textLength="42.31" lengthAdjust="spacingAndGlyphs">-10</text>
<text x="15.52" y="562.1" font-size="27" textLength="42.08" lengthAdjust="spacingAndGlyphs">-15</text>
<text x="22.52" y="612.1" font-size="27" textLength="41.99" lengthAdjust="spacingAndGlyphs">-20</text>
<text x="1467.83" y="398.9" font-size="27" textLength="16.72" lengthAdjust="spacingAndGlyphs">0</text>
<text x="1457.07" y="453.8" font-size="27" textLength="26.87" lengthAdjust="spacingAndGlyphs">-5</text>
<text x="1441.82" y="506.2" font-size="27" textLength="41.99" lengthAdjust="spacingAndGlyphs">-10</text>
<text x="1432.12" y="555.8" font-size="27" textLength="42.08" lengthAdjust="spacingAndGlyphs">-15</text>
<text x="1422.71" y="603.6" font-size="27" textLength="42.31" lengthAdjust="spacingAndGlyphs">-20</text>
<text x="125.89" y="667.9" font-size="32.8" textLength="49.63" lengthAdjust="spacingAndGlyphs">-80</text>
<text x="271.31" y="667.7" font-size="32.8" textLength="48.88" lengthAdjust="spacingAndGlyphs">-60</text>
<text x="413.88" y="667.7" font-size="32.8" textLength="49.94" lengthAdjust="spacingAndGlyphs">-40</text>
<text x="577.34" y="664.4" font-size="32.8" textLength="47.93" lengthAdjust="spacingAndGlyphs">-20</text>
<text x="747.16" y="665.7" font-size="32.8" textLength="19.16" lengthAdjust="spacingAndGlyphs">0</text>
<text x="868.68" y="664.7" font-size="32.8" textLength="38.34" lengthAdjust="spacingAndGlyphs">20</text>
<text x="1008.56" y="664.7" font-size="32.8" textLength="37.32" lengthAdjust="spacingAndGlyphs">40</text>
<text x="1151.22" y="663.8" font-size="32.8" textLength="37.37" lengthAdjust="spacingAndGlyphs">60</text>
<text x="1304.93" y="660" font-size="32.8" textLength="38.08" lengthAdjust="spacingAndGlyphs">80</text>
<text x="280.47" y="164.5" font-size="45.5" textLength="277.99" lengthAdjust="spacingAndGlyphs" fill="#b9190a">Fracture Zone</text>
<text x="927.86" y="162.5" font-size="45.5" textLength="279.11" lengthAdjust="spacingAndGlyphs" fill="#b9190a">Fracture Zone</text>
<text x="619.42" y="123.4" font-size="44.6" textLength="201.38" lengthAdjust="spacingAndGlyphs" fill="#00518f">Transform</text>
<text x="685.4" y="165.5" font-size="44.6" textLength="97.72" lengthAdjust="spacingAndGlyphs" fill="#00518f">Fault</text>
<text x="789.67" y="420" font-size="44" textLength="257.49" lengthAdjust="spacingAndGlyphs">Dike zones =</text>
<text x="789.18" y="462.3" font-size="44" textLength="339.86" lengthAdjust="spacingAndGlyphs">magma accretion</text>
<text x="159.36" y="477.2" font-size="59.7" textLength="158.27" lengthAdjust="spacingAndGlyphs" fill="#fff" stroke="#a09843" stroke-width="1.5" paint-order="fill">600°C</text>
<text x="618.1" y="719" font-size="33.4" textLength="215.71" lengthAdjust="spacingAndGlyphs">viscosity [Pa s]</text>
<text x="377.37" y="766.3" font-size="33.3" textLength="71.9" lengthAdjust="spacingAndGlyphs">5x10</text>
<text x="451.91" y="757.6" font-size="22" textLength="21.84" lengthAdjust="spacingAndGlyphs">18</text>
<text x="665.15" y="767" font-size="33.3" textLength="34.44" lengthAdjust="spacingAndGlyphs">10</text>
<text x="699.89" y="758.3" font-size="22" textLength="24.66" lengthAdjust="spacingAndGlyphs">20</text>
<text x="1029.99" y="768" font-size="33.3" textLength="36.67" lengthAdjust="spacingAndGlyphs">10</text>
<text x="1066.06" y="759.6" font-size="22" textLength="25.39" lengthAdjust="spacingAndGlyphs">22</text>
<text x="1237.91" y="763.7" font-size="31" textLength="17.4" lengthAdjust="spacingAndGlyphs">z</text>
<text x="1311.64" y="756.6" font-size="31" textLength="15.42" lengthAdjust="spacingAndGlyphs">y</text>
<text x="1297.64" y="818.5" font-size="31" textLength="16.28" lengthAdjust="spacingAndGlyphs">x</text>
<text x="33.48" y="93.8" font-size="70" textLength="17.49" lengthAdjust="spacingAndGlyphs" font-weight="bold" font-style="italic">-</text>
<text x="53.46" y="90" font-size="52.3" textLength="76.24" lengthAdjust="spacingAndGlyphs" font-weight="bold" font-style="italic">U/2</text>
<text x="1370.22" y="90" font-size="52.3" textLength="74.57" lengthAdjust="spacingAndGlyphs" font-weight="bold" font-style="italic">U/2</text>
<text x="390.18" y="295.7" font-size="51.6" font-weight="bold" textLength="163.11" lengthAdjust="spacingAndGlyphs" xml:space="preserve"><tspan font-style="italic">M</tspan><tspan font-style="normal"> = 0.6</tspan></text>
</svg>
</body></html>
